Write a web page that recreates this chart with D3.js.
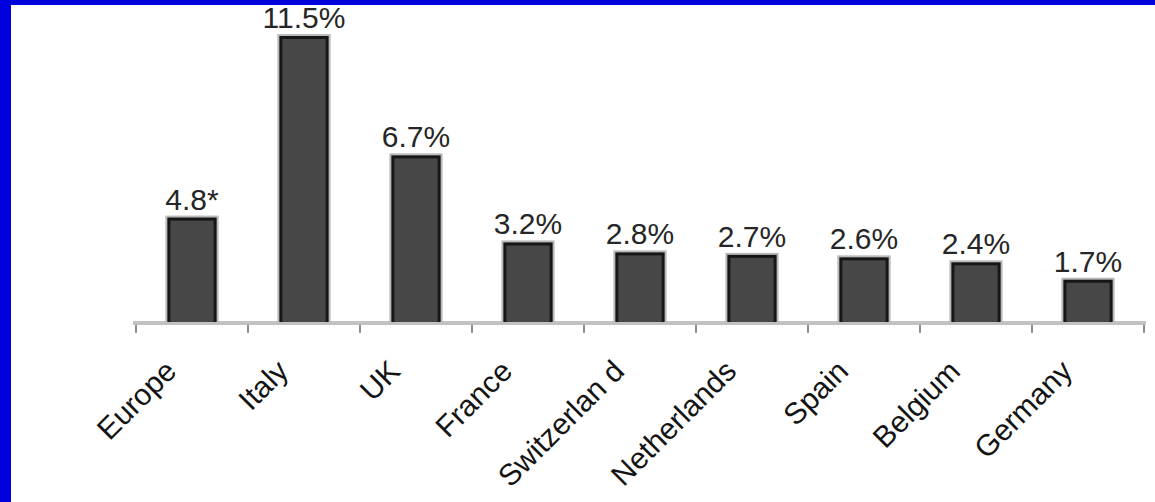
<!DOCTYPE html>
<html>
<head>
<meta charset="utf-8">
<script src="https://cdn.jsdelivr.net/npm/d3@7"></script>
<style>
  body { margin: 0; background: #fff; }
  text { font-family: "Liberation Sans", Arial, sans-serif; }
</style>
</head>
<body>
<svg id="chart" width="1155" height="502"></svg>
<script>
// categories along the axis
var categories = ["Europe", "Italy", "UK", "France", "Switzerlan d", "Netherlands", "Spain", "Belgium", "Germany"];
// bar heights as drawn in the picture (percent)
var values = [4.2, 11.5, 6.7, 3.2, 2.8, 2.7, 2.6, 2.4, 1.7];
// value labels printed above the bars
var valueLabels = ["4.8*", "11.5%", "6.7%", "3.2%", "2.8%", "2.7%", "2.6%", "2.4%", "1.7%"];

var width = 1155,
    height = 502,
    baseline = 322;

var svg = d3.select("#chart");

// blue frame on the left and top
svg.append("rect").attr("x", 0).attr("y", 0).attr("width", width).attr("height", 5).attr("fill", "#0000dd");
svg.append("rect").attr("x", 0).attr("y", 0).attr("width", 11).attr("height", height).attr("fill", "#0000dd");

// one slot per category, ticks sit on the slot edges
var x = d3.scaleBand()
    .domain(categories)
    .range([136, 1144])
    .padding(0);

var y = d3.scaleLinear()
    .domain([0, 12])
    .range([baseline, baseline - 12 * 24.87]);

var barW = x.bandwidth() * 0.44;

// axis line + ticks
var axis = svg.append("g");
axis.append("line")
    .attr("x1", 133).attr("x2", 1146)
    .attr("y1", baseline + 1).attr("y2", baseline + 1)
    .attr("stroke", "#c2c2c2").attr("stroke-width", 4);

var tickPos = categories.map(function (d) { return x(d); }).concat([x.range()[1]]);
axis.selectAll("line.tick")
    .data(tickPos)
    .enter().append("line")
    .attr("class", "tick")
    .attr("x1", function (d) { return d; }).attr("x2", function (d) { return d; })
    .attr("y1", baseline + 3).attr("y2", baseline + 11)
    .attr("stroke", "#8c8c8c").attr("stroke-width", 2);

// bars: light halo, dark border, grey fill
var bar = svg.selectAll("g.bar")
    .data(values)
    .enter().append("g")
    .attr("class", "bar")
    .attr("transform", function (d, i) {
        return "translate(" + (x(categories[i]) + (x.bandwidth() - barW) / 2) + ",0)";
    });

bar.append("rect")
    .attr("x", -2)
    .attr("y", function (d) { return y(d) - 2; })
    .attr("width", barW + 4)
    .attr("height", function (d) { return baseline - y(d) + 2; })
    .attr("fill", "#bababa");

bar.append("rect")
    .attr("x", 0)
    .attr("y", function (d) { return y(d); })
    .attr("width", barW)
    .attr("height", function (d) { return baseline - y(d); })
    .attr("fill", "#161616");

bar.append("rect")
    .attr("x", 3)
    .attr("y", function (d) { return y(d) + 3; })
    .attr("width", barW - 6)
    .attr("height", function (d) { return baseline - y(d) - 3; })
    .attr("fill", "#474747");

// value labels
svg.selectAll("text.value")
    .data(values)
    .enter().append("text")
    .attr("class", "value")
    .attr("x", function (d, i) { return x(categories[i]) + x.bandwidth() / 2; })
    .attr("y", function (d) { return y(d) - 8; })
    .attr("text-anchor", "middle")
    .attr("font-size", 30)
    .attr("fill", "#262626")
    .text(function (d, i) { return valueLabels[i]; });

// rotated category labels
svg.selectAll("text.cat")
    .data(categories)
    .enter().append("text")
    .attr("class", "cat")
    .attr("text-anchor", "end")
    .attr("font-size", 30)
    .attr("fill", "#141414")
    .attr("transform", function (d) {
        return "translate(" + (x(d) + x.bandwidth() / 2 - 14) + "," + 373 + ") rotate(-45)";
    })
    .text(function (d) { return d; });
</script>
</body>
</html>
